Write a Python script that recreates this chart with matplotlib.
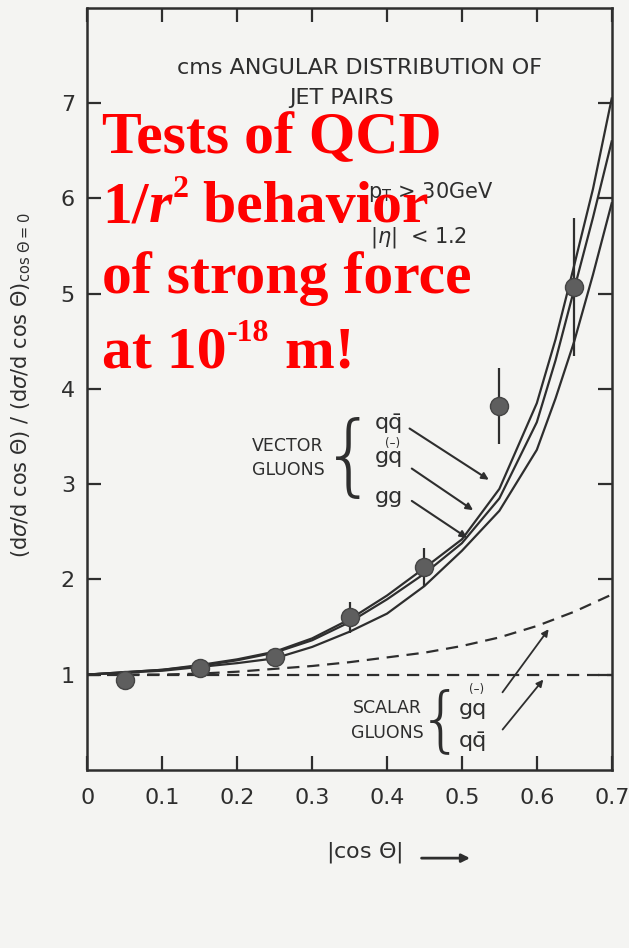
import numpy as np
import matplotlib.pyplot as plt
from matplotlib.transforms import offset_copy

plt.rcParams['mathtext.fontset'] = 'dejavusans'

# measured points
x_data = [0.05, 0.15, 0.25, 0.35, 0.45, 0.55, 0.65]
y_data = [0.94, 1.07, 1.18, 1.60, 2.13, 3.82, 5.07]
y_err = [0.0, 0.0, 0.0, 0.16, 0.20, 0.40, 0.72]

# vector gluon curves
x_vec = [0.0, 0.1, 0.15, 0.2, 0.25, 0.3, 0.35, 0.4, 0.45, 0.5, 0.55, 0.6, 0.625, 0.65, 0.675, 0.7]
y_qq = [1.0, 1.05, 1.10, 1.16, 1.24, 1.38, 1.58, 1.83, 2.12, 2.42, 2.95, 3.85, 4.52, 5.30, 6.10, 7.05]
y_gq = [1.0, 1.05, 1.09, 1.15, 1.23, 1.36, 1.55, 1.79, 2.06, 2.38, 2.85, 3.65, 4.30, 5.05, 5.80, 6.60]
y_gg = [1.0, 1.04, 1.08, 1.12, 1.17, 1.29, 1.45, 1.64, 1.93, 2.30, 2.72, 3.36, 3.90, 4.50, 5.20, 5.95]

# scalar gluon curves
x_sca = [0.0, 0.1, 0.15, 0.2, 0.25, 0.3, 0.35, 0.4, 0.45, 0.5, 0.55, 0.6, 0.65, 0.7]
y_sgq = [1.0, 1.0, 1.01, 1.03, 1.06, 1.09, 1.13, 1.18, 1.23, 1.30, 1.39, 1.51, 1.66, 1.84]
y_sqq = [1.0, 1.0, 1.0, 1.0, 1.0, 1.0, 1.0, 1.0, 1.0, 1.0, 1.0, 1.0, 1.0, 1.0]

xticks = [0, 0.1, 0.2, 0.3, 0.4, 0.5, 0.6, 0.7]
xticklabels = ['0', '0.1', '0.2', '0.3', '0.4', '0.5', '0.6', '0.7']
yticks = [1, 2, 3, 4, 5, 6, 7]

ink = '#2e2e2e'
sans = 'DejaVu Sans'

fig = plt.figure(figsize=(6.29, 9.48), dpi=100, facecolor='#f4f4f2')
ax = fig.add_axes([0.139, 0.188, 0.8335, 0.8035])
ax.set_facecolor('#f4f4f2')

for y in [y_qq, y_gq, y_gg]:
    ax.plot(x_vec, y, color=ink, lw=1.6)
for y in [y_sgq, y_sqq]:
    ax.plot(x_sca, y, color=ink, lw=1.6, ls=(0, (5.5, 3.5)))

ax.errorbar(x_data, y_data, yerr=y_err, fmt='o', ms=13, color='#5e5e5e',
            mec='#444444', ecolor=ink, elinewidth=1.6, capsize=0, zorder=5)

ax.set_xlim(0, 0.7)
ax.set_ylim(0, 8)
ax.set_xticks(xticks)
ax.set_xticklabels(xticklabels)
ax.set_yticks(yticks)
ax.tick_params(direction='in', length=10, width=1.6, color=ink,
               top=True, right=True, labelsize=16, labelcolor=ink)
ax.tick_params(axis='x', pad=13)
ax.tick_params(axis='y', pad=9)
for sp in ax.spines.values():
    sp.set_color(ink)
    sp.set_linewidth(1.8)

# texts from the scan
ax.text(0.363, 7.37, 'cms ANGULAR DISTRIBUTION OF', ha='center', va='center',
        fontsize=16, color=ink, family=sans)
ax.text(0.339, 7.06, 'JET PAIRS', ha='center', va='center',
        fontsize=16, color=ink, family=sans)
ax.text(0.375, 6.07, 'p$_\\mathrm{T}$ > 30GeV', ha='left', va='center',
        fontsize=15, color=ink, family=sans)
ax.text(0.377, 5.59, '|$\\eta$|  < 1.2', ha='left', va='center',
        fontsize=15, color=ink, family=sans)

ax.text(0.268, 3.40, 'VECTOR', ha='center', va='center', fontsize=12.5, color=ink, family=sans)
ax.text(0.268, 3.15, 'GLUONS', ha='center', va='center', fontsize=12.5, color=ink, family=sans)
ax.text(0.349, 3.25, '{', ha='center', va='center', fontsize=64, color=ink,
        family=sans, fontweight='light')
ax.text(0.384, 3.64, 'qq\u0304', ha='left', va='center', fontsize=16, color=ink, family=sans)
ax.text(0.384, 3.28, 'gq', ha='left', va='center', fontsize=16, color=ink, family=sans)
ax.text(0.407, 3.43, '(\u2013)', ha='center', va='center', fontsize=8.5, color=ink, family=sans)
ax.text(0.384, 2.87, 'gg', ha='left', va='center', fontsize=16, color=ink, family=sans)

ax.annotate('', xy=(0.539, 3.03), xytext=(0.427, 3.60),
            arrowprops=dict(arrowstyle='-|>', color=ink, lw=1.5, mutation_scale=10))
ax.annotate('', xy=(0.518, 2.71), xytext=(0.430, 3.18),
            arrowprops=dict(arrowstyle='-|>', color=ink, lw=1.5, mutation_scale=10))
ax.annotate('', xy=(0.510, 2.42), xytext=(0.430, 2.84),
            arrowprops=dict(arrowstyle='-|>', color=ink, lw=1.5, mutation_scale=10))

ax.text(0.401, 0.65, 'SCALAR', ha='center', va='center', fontsize=12.5, color=ink, family=sans)
ax.text(0.401, 0.39, 'GLUONS', ha='center', va='center', fontsize=12.5, color=ink, family=sans)
ax.text(0.472, 0.50, '{', ha='center', va='center', fontsize=52, color=ink,
        family=sans, fontweight='light')
ax.text(0.496, 0.64, 'gq', ha='left', va='center', fontsize=16, color=ink, family=sans)
ax.text(0.519, 0.84, '(\u2013)', ha='center', va='center', fontsize=8.5, color=ink, family=sans)
ax.text(0.496, 0.30, 'qq\u0304', ha='left', va='center', fontsize=16, color=ink, family=sans)
ax.annotate('', xy=(0.618, 1.50), xytext=(0.552, 0.79),
            arrowprops=dict(arrowstyle='-|>', color=ink, lw=1.3, mutation_scale=10))
ax.annotate('', xy=(0.611, 0.97), xytext=(0.552, 0.40),
            arrowprops=dict(arrowstyle='-|>', color=ink, lw=1.3, mutation_scale=10))

fig.text(0.033, 0.594,
         r'(d$\sigma$/d cos $\Theta$) / (d$\sigma$/d cos $\Theta$)$_{\mathrm{cos}\ \Theta=0}$',
         rotation=90, ha='center', va='center', fontsize=15, color=ink, family=sans)
ax.text(0.528, -0.108, r'|cos $\Theta$|', transform=ax.transAxes, ha='center',
        va='center', fontsize=16, color=ink, family=sans)
ax.annotate('', xy=(0.735, -0.116), xytext=(0.632, -0.116), xycoords='axes fraction',
            arrowprops=dict(arrowstyle='-|>', color=ink, lw=2, mutation_scale=12))

# red overlay, pieces laid out one after another
red = '#ff0000'
serif = 'Liberation Serif'
renderer = fig.canvas.get_renderer()


def red_line(x0, y0, pieces):
    x_pix, y_pix = ax.transData.transform((x0, y0))
    for txt, size, style, rise in pieces:
        t = fig.text(x_pix / fig.bbox.width, (y_pix + rise) / fig.bbox.height, txt,
                     fontsize=size, color=red, family=serif, fontweight='bold',
                     style=style, ha='left', va='baseline')
        x_pix = t.get_window_extent(renderer).x1


red_line(0.02, 6.48, [('Tests of QCD', 43, 'normal', 0)])
red_line(0.02, 5.75, [('1/', 43, 'normal', 0), ('r', 43, 'italic', 0),
                      ('2', 23, 'normal', 25), (' behavior', 43, 'normal', 0)])
red_line(0.02, 5.01, [('of strong force', 43, 'normal', 0)])
red_line(0.02, 4.23, [('at 10', 43, 'normal', 0), ('-18', 23, 'normal', 26),
                      (' m!', 43, 'normal', 0)])

fig.savefig('out.png', dpi=100, facecolor=fig.get_facecolor())
